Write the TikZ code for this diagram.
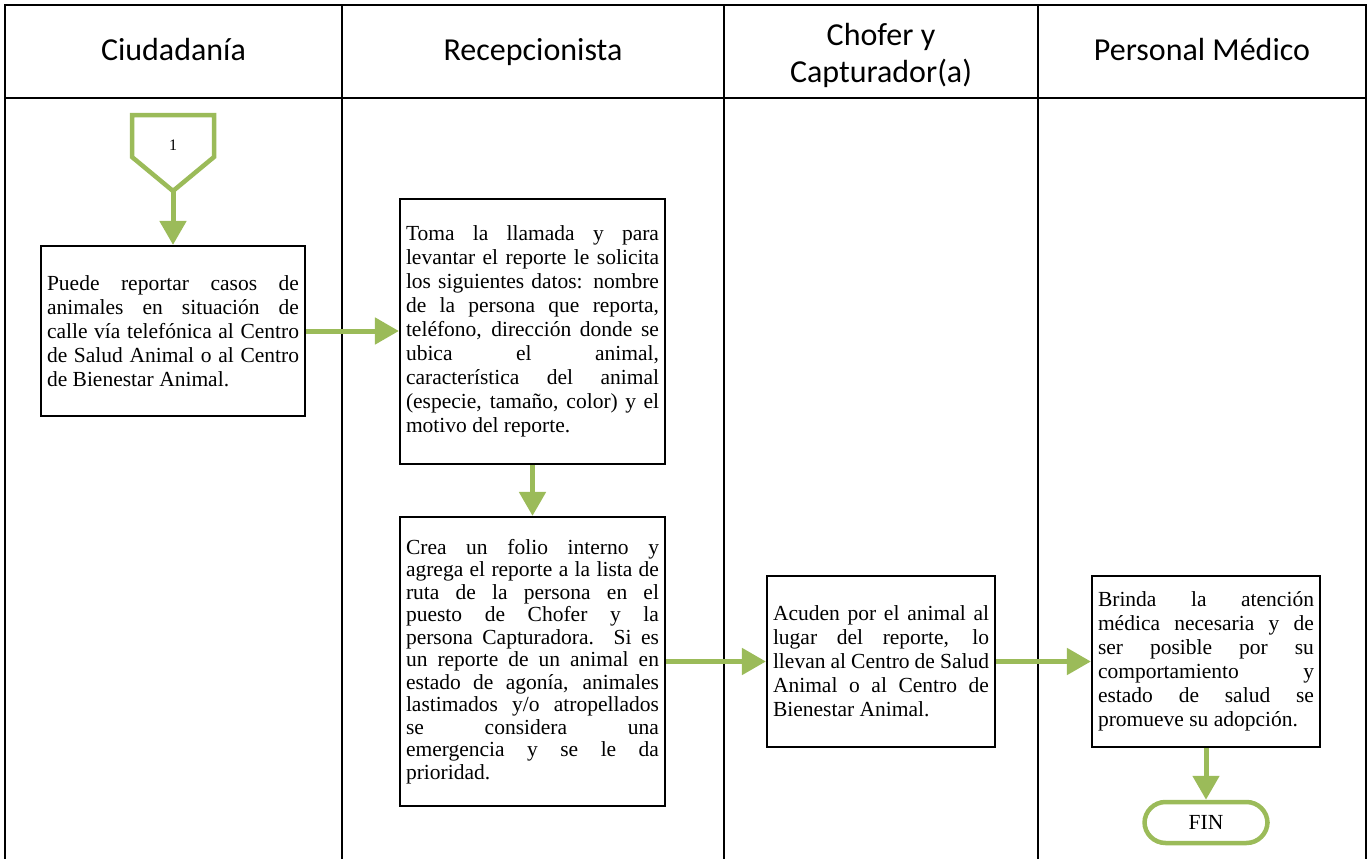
\documentclass[tikz,border=0pt]{standalone}
\usepackage{fontspec}
\setmainfont{Liberation Serif}
\newfontfamily\headfont{Carlito}
\usetikzlibrary{arrows.meta}
\definecolor{flowgreen}{HTML}{9BBB59}

\begin{document}
\begin{tikzpicture}[x=1pt,y=-1pt,
  lane/.style={draw=black, line width=1.8pt},
  head/.style={font=\headfont\fontsize{32}{37}\selectfont, align=center, inner sep=0pt},
  stepbox/.style={draw=black, line width=2.2pt, fill=white, inner xsep=6pt, inner ysep=0pt,
    align=justify, font=\fontsize{21.5}{24}\selectfont},
  flow/.style={draw=flowgreen, line width=5pt, -{Triangle[length=24pt,width=26pt]}},
  greenshape/.style={draw=flowgreen, line width=4.5pt, fill=white, line join=miter},
]
\useasboundingbox (0,0) rectangle (1369,859);

% swimlane table
\draw[lane] (5,859) -- (5,5) -- (1366,5) -- (1366,859);
\draw[lane] (5,98) -- (1366,98);
\foreach \x in {342,724,1038} \draw[lane] (\x,5) -- (\x,859);

% lane titles
\node[head, anchor=base] (h1) at (173.5,61) {Ciudadanía};
\node[head, anchor=base] (h2) at (533,61) {Recepcionista};
\node[head] (h3) at (881,55) {Chofer y\\Capturador(a)};
\node[head, anchor=base] (h4) at (1202,61) {Personal Médico};

% off-page connector
\draw[greenshape] (132,115) -- (214,115) -- (214,157) -- (173,191) -- (132,157) -- cycle;
\coordinate (p1tip) at (173,191);
\node[font=\fontsize{16}{18}\selectfont] (p1) at (173,145) {1};

% process steps
\node[stepbox, text width=252pt, minimum height=170pt] (b1) at (173,331)
  {Puede reportar casos de\linebreak
   animales en situación de\linebreak
   calle vía telefónica al Centro\linebreak
   de Salud Animal o al Centro\linebreak
   de Bienestar Animal.};

\node[stepbox, text width=253pt, minimum height=265pt] (b2) at (532.5,331.5)
  {Toma la llamada y para\linebreak
   levantar el reporte le solicita\linebreak
   los siguientes datos: nombre\linebreak
   de la persona que reporta,\linebreak
   teléfono, dirección donde se\linebreak
   ubica el animal,\linebreak
   característica del animal\linebreak
   (especie, tamaño, color) y el\linebreak
   motivo del reporte.};

\node[stepbox, text width=253pt, minimum height=289pt,
      font=\fontsize{21.5}{22.5}\selectfont] (b3) at (532.5,661.5)
  {Crea un folio interno y\linebreak
   agrega el reporte a la lista de\linebreak
   ruta de la persona en el\linebreak
   puesto de Chofer y la\linebreak
   persona Capturadora. Si es\linebreak
   un reporte de un animal en\linebreak
   estado de agonía, animales\linebreak
   lastimados y/o atropellados\linebreak
   se considera una\linebreak
   emergencia y se le da\linebreak
   prioridad.};

\node[stepbox, text width=216pt, minimum height=171pt] (b4) at (881,661.5)
  {Acuden por el animal al\linebreak
   lugar del reporte, lo\linebreak
   llevan al Centro de Salud\linebreak
   Animal o al Centro de\linebreak
   Bienestar Animal.};

\node[stepbox, text width=216pt, minimum height=171pt] (b5) at (1206,661.5)
  {Brinda la atención\linebreak
   médica necesaria y de\linebreak
   ser posible por su\linebreak
   comportamiento y\linebreak
   estado de salud se\linebreak
   promueve su adopción.};

% end terminator
\node[greenshape, rounded corners=21pt, minimum width=123pt, minimum height=41pt,
      inner sep=0pt, font=\fontsize{21.5}{24}\selectfont] (fin) at (1206,822.5) {FIN};

% flow connectors
\draw[flow] (p1tip) -- (b1.north);
\draw[flow] (b1.east) -- (b1.east -| b2.west);
\draw[flow] (b2.south) -- (b3.north);
\draw[flow] (b3.east) -- (b4.west);
\draw[flow] (b4.east) -- (b5.west);
\draw[flow] (b5.south) -- (fin.north);
\end{tikzpicture}
\end{document}
